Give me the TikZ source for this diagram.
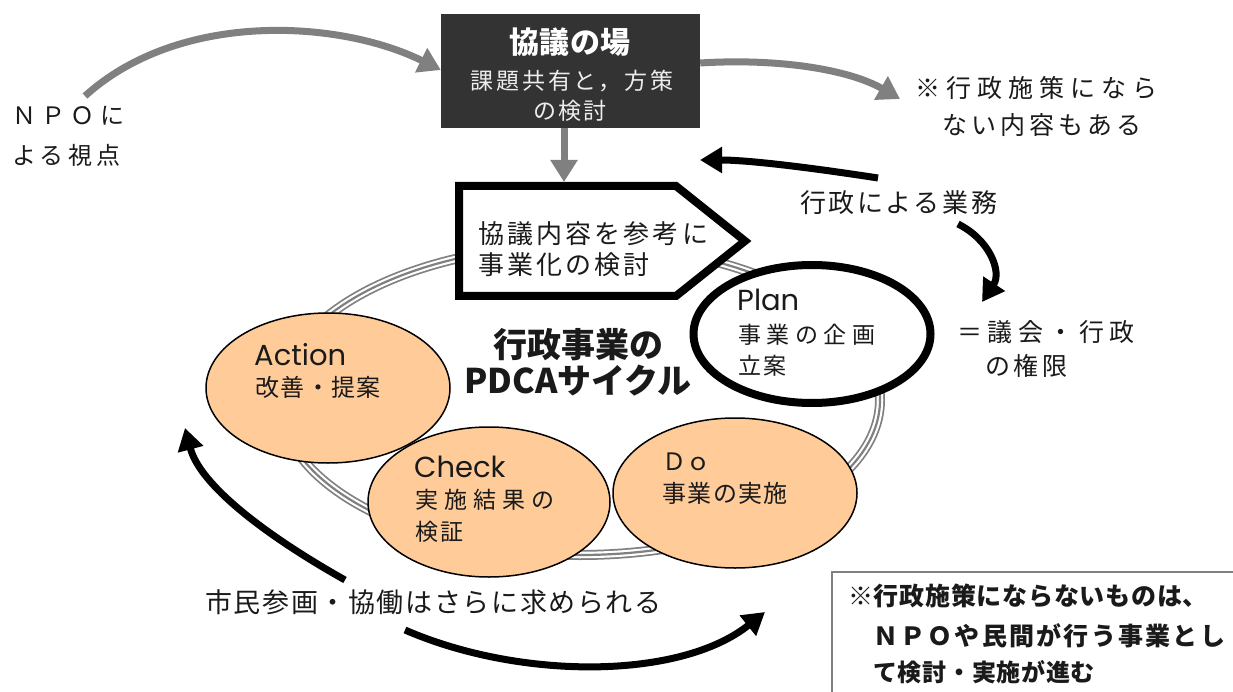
\documentclass[tikz,border=0pt]{standalone}
\usepackage{fontspec}
\setmainfont{Noto Sans CJK JP}
\newfontfamily\latinfont{Poppins}
\usetikzlibrary{arrows.meta,shapes.geometric}
\definecolor{peach}{HTML}{FFCC99}
\definecolor{darkbox}{HTML}{333333}
\definecolor{arrgray}{HTML}{808080}
\definecolor{txt}{HTML}{1A1A1A}
\newcommand{\fs}[2]{\fontsize{#1}{#1}\selectfont\addfontfeatures{LetterSpace=#2}}
\tikzset{
  lbl/.style={anchor=west, inner sep=0pt, text=txt},
  clbl/.style={inner sep=0pt, text=txt},
  grayarrow/.style={draw=arrgray, line width=7pt, -{Triangle[length=22pt,width=26pt]}},
  blackarrow/.style={draw=black, line width=7pt, -{Triangle[length=22pt,width=25pt]}},
  phase/.style={ellipse, draw=black, line width=1.5pt, fill=peach, minimum width=244pt, minimum height=150pt, inner sep=0pt},
}
\begin{document}
\begin{tikzpicture}[x=1pt,y=-1pt]
\useasboundingbox (0,0) rectangle (1233,692);
\fill[white] (0,0) rectangle (1233,692);

% ring
\draw[arrgray, line width=10pt] (580,400) ellipse [x radius=300pt, y radius=155pt];
\draw[white, line width=6.5pt] (580,400) ellipse [x radius=300pt, y radius=155pt];
\draw[arrgray, line width=2.2pt] (580,400) ellipse [x radius=300pt, y radius=155pt];

% top box
\node[fill=darkbox, minimum width=259pt, minimum height=114pt, inner sep=0pt] (kyogi) at (570.5,71) {};
\node[inner sep=0pt, text=white, font=\bfseries] (kt1) at (570,42) {\fs{30}{2}協議の場};
\node[inner sep=0pt, text=white!93!black] (kt2) at (572,81) {\fs{23}{12}課題共有と，方策};
\node[inner sep=0pt, text=white!93!black] (kt3) at (570,111) {\fs{23}{10}の検討};

% NPO
\node[lbl] (npo1) at (12,116) {\fs{24}{22}ＮＰＯに};
\node[lbl] (npo2) at (12,155) {\fs{24}{18}よる視点};
\coordinate (npostart) at (85,96);
\draw[grayarrow] (npostart) .. controls (180,10) and (340,20) .. (kyogi.west|-0,70);

% right note
\node[lbl] (note1) at (915,88) {\fs{25}{24}※行政施策になら};
\node[lbl] (note2) at (942,125) {\fs{25}{16}ない内容もある};
\coordinate (notetip) at (900,99);
\draw[grayarrow] (kyogi.east|-0,63) .. controls (780,58) and (850,70) .. (notetip);

% pentagon
\draw[line width=8pt, fill=white, line join=miter] (459,186) -- (676,186) -- (745,241) -- (676,296) -- (459,296) -- cycle;
\coordinate (pentop) at (564,182);
\draw[grayarrow] (kyogi.south-|pentop) -- (pentop);
\node[lbl] (pt1) at (478,234) {\fs{26}{12}協議内容を参考に};
\node[lbl] (pt2) at (478,265) {\fs{26}{12}事業化の検討};

% phase ellipses
\node[phase] (action) at (328,388) {};
\node[phase, minimum width=242pt] (check) at (489,502) {};
\node[phase] (do) at (735,493) {};
\node[ellipse, draw=black, fill=white, line width=8pt, minimum width=237pt, minimum height=138pt, inner sep=0pt] (plan) at (812,334) {};

\node[lbl] (plan1) at (737,300) {\latinfont\fs{29}{0}Plan};
\node[lbl] (plan2) at (738,335) {\fs{23}{24}事業の企画};
\node[lbl] (plan3) at (738,366) {\fs{23}{10}立案};

\node[lbl] (act1) at (254,355) {\latinfont\fs{29}{0}Action};
\node[lbl] (act2) at (255,387) {\fs{24}{6}改善・提案};

\node[lbl] (chk1) at (414,467) {\latinfont\fs{29}{0}Check};
\node[lbl] (chk2) at (415,500) {\fs{23}{26}実施結果の};
\node[lbl] (chk3) at (415,532) {\fs{23}{8}検証};

\node[lbl] (do1) at (662,462) {\fs{24}{0}Ｄｏ};
\node[lbl] (do2) at (662,493) {\fs{24}{6}事業の実施};

% center title
\node[clbl, font=\bfseries] (title1) at (578,345) {\fs{34}{0}行政事業の};
\node[clbl, font=\bfseries] (title2) at (578,381) {\fs{34}{0}PDCAサイクル};

% administration arrows
\node[lbl] (gyomu) at (800,203) {\fs{26}{10}行政による業務};
\coordinate (g1s) at (878,178);
\coordinate (g1e) at (700,160);
\draw[blackarrow] (g1s) .. controls (800,166) and (745,160) .. (g1e);
\coordinate (g2s) at (958,224);
\coordinate (g2e) at (982,302);
\draw[blackarrow] (g2s) .. controls (990,240) and (1002,272) .. (g2e);
\node[lbl] (ken1) at (957,332) {\fs{25}{22}＝議会・行政};
\node[lbl] (ken2) at (985,366) {\fs{25}{14}の権限};

% citizen arrows
\node[lbl] (shimin) at (205,602) {\fs{27}{6}市民参画・協働はさらに求められる};
\coordinate (c1s) at (345,580);
\coordinate (c1e) at (185,428);
\draw[blackarrow] (c1s) .. controls (265,535) and (200,485) .. (c1e);
\coordinate (c2s) at (405,630);
\coordinate (c2e) at (765,612);
\draw[blackarrow] (c2s) .. controls (520,680) and (680,680) .. (c2e);

% bottom-right box
\draw[arrgray, line width=2pt] (832,572) rectangle (1245,705);
\node[lbl, font=\bfseries] (box1) at (848,596) {\fs{25}{3}※行政施策にならないものは、};
\node[lbl, font=\bfseries] (box2) at (873,636) {\fs{25}{9}ＮＰＯや民間が行う事業とし};
\node[lbl, font=\bfseries] (box3) at (873,672) {\fs{24}{3}て検討・実施が進む};
\end{tikzpicture}
\end{document}
